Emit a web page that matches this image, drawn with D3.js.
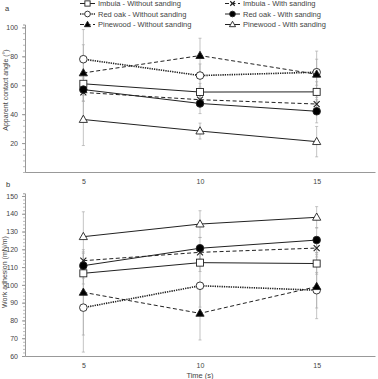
<!DOCTYPE html>
<html>
<head>
<meta charset="utf-8">
<script src="https://cdn.jsdelivr.net/npm/d3@7"></script>
<style>
  body { margin: 0; background: #fff; }
  svg { font-family: "Liberation Sans", Arial, sans-serif; }
</style>
</head>
<body>
<div id="chart"></div>
<script>
// data
const times = [5, 10, 15];
const seriesNames = [
    "Imbuia - Without sanding", "Imbuia - With sanding",
    "Red oak - Without sanding", "Red oak - With sanding",
    "Pinewood - Without sanding", "Pinewood - With sanding"
];
// panel a: apparent contact angle (deg)
const angleImbuiaNo = [61, 55.3, 55.4];
const angleImbuiaYes = [55, 50, 47];
const angleOakNo = [78, 66.7, 69];
const angleOakYes = [57, 47.4, 42];
const anglePineNo = [68.5, 80.5, 67.6];
const anglePineYes = [36.3, 28.3, 21];
const angleErrImbuiaNo = [8, 6, 7];
const angleErrImbuiaYes = [6, 5, 6];
const angleErrOakNo = [10, 8, 9];
const angleErrOakYes = [8, 7, 8];
const angleErrPineNo = [30, 12, 16];
const angleErrPineYes = [18, 5.5, 10.5];
// panel b: work of adhesion (mN/m)
const workImbuiaNo = [106.5, 112.5, 112];
const workImbuiaYes = [113.6, 118.3, 120.7];
const workOakNo = [87.2, 99.5, 97];
const workOakYes = [110.8, 120.6, 125.2];
const workPineNo = [95.8, 84, 99];
const workPineYes = [127.1, 134.2, 138];
const workErrImbuiaNo = [6, 5, 6];
const workErrImbuiaYes = [5, 4, 5];
const workErrOakNo = [25, 12, 10];
const workErrOakYes = [7, 6, 7];
const workErrPineNo = [24, 15, 18];
const workErrPineYes = [14, 7.5, 6];
const angleTicks = [20, 40, 60, 80, 100];
const workTicks = [60, 70, 80, 90, 100, 110, 120, 130, 140, 150];

const styles = [
    { marker: "square", fill: "#fff", dash: null, width: 1 },
    { marker: "cross", fill: "#fff", dash: "4,2.5", width: 1 },
    { marker: "circle", fill: "#fff", dash: "1.3,1", width: 1.6 },
    { marker: "circle", fill: "#000", dash: null, width: 1 },
    { marker: "triangle", fill: "#000", dash: "4,2.5", width: 1 },
    { marker: "triangle", fill: "#fff", dash: null, width: 1 }
];

const svg = d3.select("#chart").append("svg")
    .attr("width", 378).attr("height", 379);

const x = d3.scaleLinear().domain([2.5, 17.5]).range([25, 375]);

function drawMarker(g, type, cx, cy, fill, k = 1) {
    if (type == "circle") {
        g.append("circle").attr("cx", cx).attr("cy", cy).attr("r", 3.8 * k)
            .attr("fill", fill).attr("stroke", "#222").attr("stroke-width", 0.9);
    } else if (type == "square") {
        g.append("rect").attr("x", cx - 3.5 * k).attr("y", cy - 3.5 * k)
            .attr("width", 7 * k).attr("height", 7 * k)
            .attr("fill", fill).attr("stroke", "#222").attr("stroke-width", 0.9);
    } else if (type == "triangle") {
        g.append("path").attr("d", `M${cx},${cy - 4.3 * k}L${cx + 4.1 * k},${cy + 2.9 * k}L${cx - 4.1 * k},${cy + 2.9 * k}Z`)
            .attr("fill", fill).attr("stroke", "#222").attr("stroke-width", 0.9);
    } else if (type == "cross") {
        g.append("path").attr("d", `M${cx - 3 * k},${cy - 3 * k}L${cx + 3 * k},${cy + 3 * k}M${cx - 3 * k},${cy + 3 * k}L${cx + 3 * k},${cy - 3 * k}`)
            .attr("stroke", "#222").attr("stroke-width", 1.1);
    }
}

function drawPanel(opts) {
    const y = d3.scaleLinear().domain(opts.domain).range(opts.range);
    const g = svg.append("g");

    // axes
    g.append("g").attr("transform", `translate(0, ${opts.range[0]})`)
        .call(d3.axisBottom(x).tickValues(times).tickSize(0).tickPadding(7))
        .call(a => a.select(".domain").attr("stroke", "#999"))
        .call(a => a.selectAll("text").attr("fill", "#444").attr("font-size", 7));
    g.append("g").attr("transform", `translate(${x.range()[0]}, 0)`)
        .call(d3.axisLeft(y).tickValues(d3.range(opts.domain[0], opts.domain[1] + 0.01, opts.minor)).tickSize(2).tickFormat(""))
        .call(a => a.select(".domain").attr("stroke", "#999"))
        .call(a => a.selectAll("line").attr("stroke", "#bbb"));
    g.append("g").attr("transform", `translate(${x.range()[0]}, 0)`)
        .call(d3.axisLeft(y).tickValues(opts.ticks).tickSize(3).tickPadding(4))
        .call(a => a.select(".domain").remove())
        .call(a => a.selectAll("line").attr("stroke", "#999"))
        .call(a => a.selectAll("text").attr("fill", "#444").attr("font-size", 7));

    g.append("text").attr("transform", `translate(${opts.labelX}, ${opts.labelY}) rotate(-90)`)
        .attr("text-anchor", "middle").attr("font-size", 7).attr("fill", "#444")
        .text(opts.label);
    g.append("text").attr("x", opts.letterX).attr("y", opts.letterY)
        .attr("font-size", 7.5).attr("fill", "#333").text(opts.letter);

    // error bars
    opts.values.forEach((vals, i) => {
        vals.forEach((v, j) => {
            const e = opts.errors[i][j];
            const cx = x(times[j]);
            g.append("line").attr("x1", cx).attr("x2", cx)
                .attr("y1", y(v - e)).attr("y2", y(v + e))
                .attr("stroke", "#aaa").attr("stroke-width", 0.7);
            [v - e, v + e].forEach(t => g.append("line")
                .attr("x1", cx - 1.5).attr("x2", cx + 1.5)
                .attr("y1", y(t)).attr("y2", y(t))
                .attr("stroke", "#aaa").attr("stroke-width", 0.7));
        });
    });

    // lines and markers
    const line = d3.line().x((d, j) => x(times[j])).y(d => y(d));
    opts.values.forEach((vals, i) => {
        const s = styles[i];
        g.append("path").attr("d", line(vals)).attr("fill", "none")
            .attr("stroke", "#222").attr("stroke-width", s.width)
            .attr("stroke-dasharray", s.dash);
        vals.forEach((v, j) => drawMarker(g, s.marker, x(times[j]), y(v), s.fill));
    });
}

drawPanel({
    domain: [0, 102], range: [172, 24.5], ticks: angleTicks, minor: 4,
    values: [angleImbuiaNo, angleImbuiaYes, angleOakNo, angleOakYes, anglePineNo, anglePineYes],
    errors: [angleErrImbuiaNo, angleErrImbuiaYes, angleErrOakNo, angleErrOakYes, angleErrPineNo, angleErrPineYes],
    label: "Apparent contact angle (°)", labelX: 8, labelY: 90,
    letter: "a", letterX: 5, letterY: 11
});

drawPanel({
    domain: [60, 151.5], range: [356, 193.3], ticks: workTicks, minor: 2,
    values: [workImbuiaNo, workImbuiaYes, workOakNo, workOakYes, workPineNo, workPineYes],
    errors: [workErrImbuiaNo, workErrImbuiaYes, workErrOakNo, workErrOakYes, workErrPineNo, workErrPineYes],
    label: "Work adhesion (mN/m)", labelX: 6.5, labelY: 272,
    letter: "b", letterX: 6, letterY: 187
});

svg.append("text").attr("x", 200).attr("y", 378).attr("text-anchor", "middle")
    .attr("font-size", 7.5).attr("fill", "#444").text("Time (s)");

// legend
const legend = svg.append("g");
seriesNames.forEach((name, i) => {
    const col = i % 2, row = Math.floor(i / 2);
    const lx = col ? 225 : 80, ly = 3.5 + row * 10.5;
    const s = styles[i];
    legend.append("line").attr("x1", lx).attr("x2", lx + 15).attr("y1", ly).attr("y2", ly)
        .attr("stroke", "#222").attr("stroke-width", s.width).attr("stroke-dasharray", s.dash);
    drawMarker(legend, s.marker, lx + 7.5, ly, s.fill, 0.75);
    legend.append("text").attr("x", lx + 18).attr("y", ly + 2.6)
        .attr("font-size", 7.5).attr("fill", "#444").text(name);
});
</script>
</body>
</html>
